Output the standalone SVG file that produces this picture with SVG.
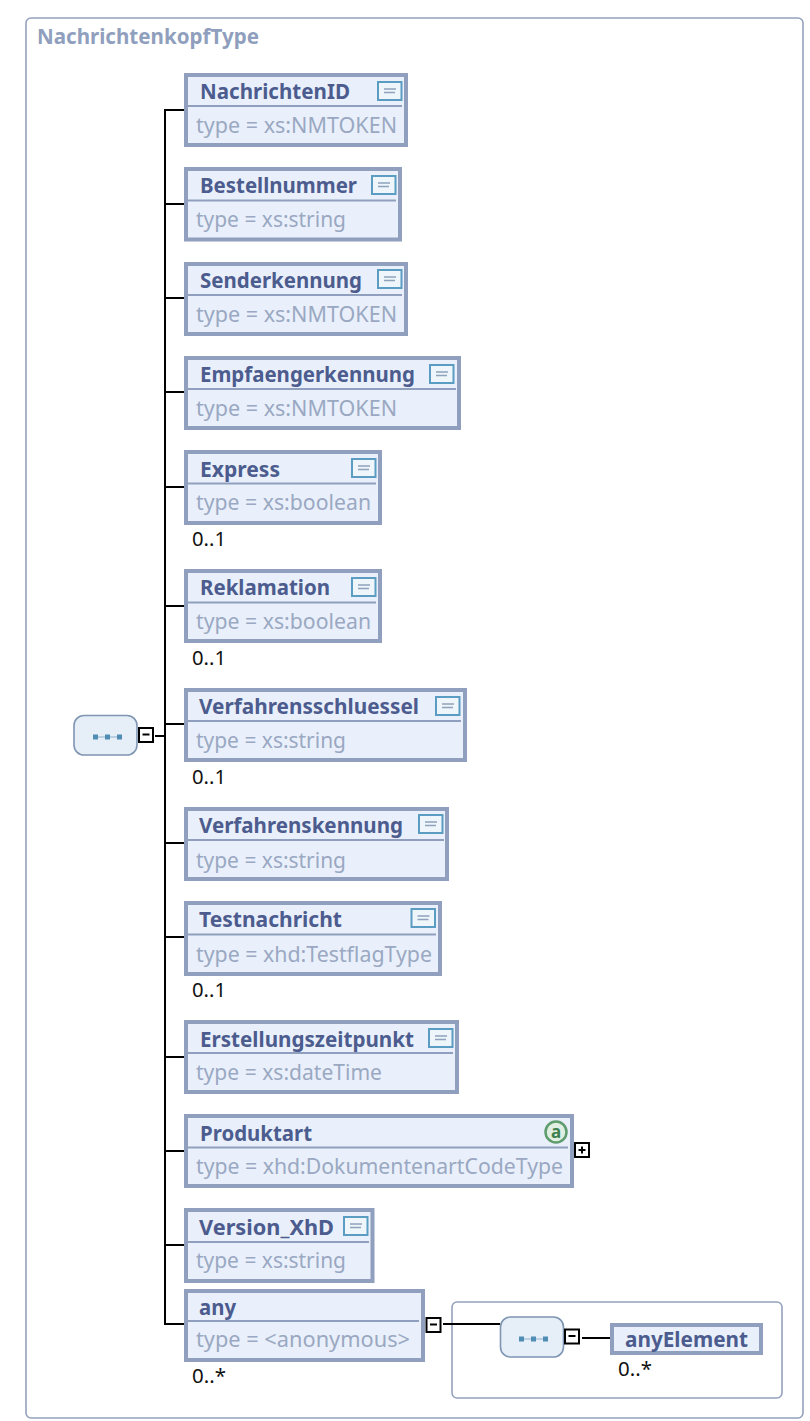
<svg xmlns="http://www.w3.org/2000/svg" width="810" height="1421" viewBox="0 0 810 1421">
<style>
text{font-family:"Noto Sans","Open Sans","Liberation Sans",sans-serif}
.box{fill:#e9f0fb;stroke:#8f9fbd;stroke-width:4}
.hd{stroke:#8f9fbd;stroke-width:2}
.n{font-size:22px;font-weight:700;fill:#4c5c8e}
.t{font-size:22px;fill:#9aa8c2}
.o{font-size:20px;fill:#111}
.c{fill:none;stroke:#000;stroke-width:2}
.fr{fill:#fff;stroke:#94a2bd;stroke-width:1.6}
.seq{fill:#e6eff8;stroke:#7f95b2;stroke-width:1.6}
.d{fill:#4f8db5}
.tg{fill:#fff;stroke:#000;stroke-width:2}
.ttl{font-size:21px;font-weight:700;fill:#8f9fbd}
.at{font-size:17px;font-weight:700;fill:#3e7f50}
</style>
<defs>
<g id="doc"><rect x="1" y="1" width="23.500" height="18" fill="#eef5fb" stroke="#5b9cc2" stroke-width="2"/><path d="M7 11.500H18M7 8H19" stroke="#8fa3bd" stroke-width="1.500" fill="none"/></g>
<g id="dots"><path d="M0 0H26" stroke="#8fb0c8" stroke-width="1"/><rect x="-3" y="-2.500" width="5" height="5" class="d"/><rect x="9" y="-2.500" width="5" height="5" class="d"/><rect x="21" y="-2.500" width="5" height="5" class="d"/></g>
<g id="minus"><rect x="1" y="1" width="14" height="14" class="tg"/><path d="M4.500 7.500H11.500" stroke="#000" stroke-width="2"/></g>
</defs>
<rect id="frame" x="26" y="18" width="777" height="1400" rx="5" class="fr"/>
<text id="title" class="ttl" x="37" y="44" textLength="222" lengthAdjust="spacingAndGlyphs">NachrichtenkopfType</text>
<rect id="inner" x="452" y="1302" width="330" height="96" rx="5" class="fr"/>
<g id="connectors">
<path class="c" d="M184 110H165V1324H184"/>
<path class="c" d="M165 204H184M165 298H184M165 392H184M165 487H184M165 606H184M165 724H184M165 843H184M165 937H184M165 1057H184M165 1151H184M165 1245H184"/>
<path class="c" d="M155 736H165"/>
<path class="c" d="M443 1324H500M582 1338H610"/>
</g>
<g id="seq1"><rect x="74" y="715.500" width="63" height="39.500" rx="10" class="seq"/><use href="#dots" x="96" y="737"/></g>
<use id="toggle1" href="#minus" x="138" y="727"/>
<g id="NachrichtenID"><rect x="186" y="75" width="220" height="70" class="box"/><path class="hd" d="M186 106H402"/><text class="n" x="200" y="99" textLength="150" lengthAdjust="spacingAndGlyphs">NachrichtenID</text><use href="#doc" x="377" y="81"/><text class="t" x="196" y="133" textLength="201" lengthAdjust="spacingAndGlyphs">type = xs:NMTOKEN</text></g>
<g id="Bestellnummer"><rect x="186" y="169" width="214" height="70.500" class="box"/><path class="hd" d="M186 200.500H396"/><text class="n" x="200" y="193" textLength="157" lengthAdjust="spacingAndGlyphs">Bestellnummer</text><use href="#doc" x="371" y="175"/><text class="t" x="196" y="227" textLength="150" lengthAdjust="spacingAndGlyphs">type = xs:string</text></g>
<g id="Senderkennung"><rect x="186" y="264" width="220" height="70" class="box"/><path class="hd" d="M186 295H402"/><text class="n" x="200" y="288" textLength="162" lengthAdjust="spacingAndGlyphs">Senderkennung</text><use href="#doc" x="377" y="269"/><text class="t" x="196" y="322" textLength="201" lengthAdjust="spacingAndGlyphs">type = xs:NMTOKEN</text></g>
<g id="Empfaengerkennung"><rect x="186" y="358" width="273" height="70" class="box"/><path class="hd" d="M186 389H456"/><text class="n" x="200" y="382" textLength="215" lengthAdjust="spacingAndGlyphs">Empfaengerkennung</text><use href="#doc" x="429" y="364"/><text class="t" x="196" y="416" textLength="201" lengthAdjust="spacingAndGlyphs">type = xs:NMTOKEN</text></g>
<g id="Express"><rect x="186" y="452" width="194" height="71" class="box"/><path class="hd" d="M186 483.500H376"/><text class="n" x="200" y="477" textLength="80" lengthAdjust="spacingAndGlyphs">Express</text><use href="#doc" x="351" y="458"/><text class="t" x="196" y="510" textLength="175" lengthAdjust="spacingAndGlyphs">type = xs:boolean</text><text class="o" x="192" y="546" textLength="34" lengthAdjust="spacingAndGlyphs">0..1</text></g>
<g id="Reklamation"><rect x="186" y="571" width="194" height="70" class="box"/><path class="hd" d="M186 602.500H376"/><text class="n" x="200" y="595" textLength="130" lengthAdjust="spacingAndGlyphs">Reklamation</text><use href="#doc" x="351" y="577"/><text class="t" x="196" y="629" textLength="175" lengthAdjust="spacingAndGlyphs">type = xs:boolean</text><text class="o" x="192" y="665" textLength="34" lengthAdjust="spacingAndGlyphs">0..1</text></g>
<g id="Verfahrensschluessel"><rect x="186" y="690" width="279" height="70" class="box"/><path class="hd" d="M186 721H461"/><text class="n" x="199" y="714" textLength="220" lengthAdjust="spacingAndGlyphs">Verfahrensschluessel</text><use href="#doc" x="435" y="696"/><text class="t" x="196" y="748" textLength="150" lengthAdjust="spacingAndGlyphs">type = xs:string</text><text class="o" x="192" y="784" textLength="34" lengthAdjust="spacingAndGlyphs">0..1</text></g>
<g id="Verfahrenskennung"><rect x="186" y="809" width="261" height="70" class="box"/><path class="hd" d="M186 840H444"/><text class="n" x="199" y="833" textLength="204" lengthAdjust="spacingAndGlyphs">Verfahrenskennung</text><use href="#doc" x="418" y="814"/><text class="t" x="196" y="868" textLength="150" lengthAdjust="spacingAndGlyphs">type = xs:string</text></g>
<g id="Testnachricht"><rect x="186" y="903" width="254" height="71" class="box"/><path class="hd" d="M186 934.500H436"/><text class="n" x="199" y="927" textLength="143" lengthAdjust="spacingAndGlyphs">Testnachricht</text><use href="#doc" x="410.500" y="908"/><text class="t" x="196" y="962" textLength="236" lengthAdjust="spacingAndGlyphs">type = xhd:TestflagType</text><text class="o" x="192" y="997" textLength="34" lengthAdjust="spacingAndGlyphs">0..1</text></g>
<g id="Erstellungszeitpunkt"><rect x="186" y="1022" width="271" height="70" class="box"/><path class="hd" d="M186 1053H453"/><text class="n" x="200" y="1047" textLength="214" lengthAdjust="spacingAndGlyphs">Erstellungszeitpunkt</text><use href="#doc" x="428" y="1028"/><text class="t" x="196" y="1080" textLength="186" lengthAdjust="spacingAndGlyphs">type = xs:dateTime</text></g>
<g id="Produktart"><rect x="186" y="1116" width="386" height="70" class="box"/><path class="hd" d="M186 1147.500H568"/><text class="n" x="200" y="1141" textLength="112" lengthAdjust="spacingAndGlyphs">Produktart</text><circle cx="556" cy="1132" r="10.500" fill="#dff0e2" stroke="#5f9c6d" stroke-width="2.500"/><text class="at" x="556" y="1138" text-anchor="middle">a</text><text class="t" x="196" y="1174" textLength="367" lengthAdjust="spacingAndGlyphs">type = xhd:DokumentenartCodeType</text></g>
<g id="toggle2"><rect x="575" y="1143" width="14" height="14" class="tg"/><path d="M578.500 1150H585.500M582 1146.500V1153.500" stroke="#000" stroke-width="2"/></g>
<g id="Version_XhD"><rect x="186" y="1210" width="186.500" height="71" class="box"/><path class="hd" d="M186 1242H369"/><text class="n" x="199" y="1235" textLength="135" lengthAdjust="spacingAndGlyphs">Version_XhD</text><use href="#doc" x="343" y="1216"/><text class="t" x="196" y="1268" textLength="150" lengthAdjust="spacingAndGlyphs">type = xs:string</text></g>
<g id="any"><rect x="186" y="1291" width="237" height="69" class="box"/><path class="hd" d="M186 1321H419"/><text class="n" x="199" y="1315" textLength="37" lengthAdjust="spacingAndGlyphs">any</text><text class="t" x="196" y="1347" textLength="214" lengthAdjust="spacingAndGlyphs">type = &lt;anonymous&gt;</text><text class="o" x="192" y="1383" textLength="34" lengthAdjust="spacingAndGlyphs">0..*</text></g>
<use id="toggle3" href="#minus" x="425.500" y="1317"/>
<g id="seq2"><rect x="500.500" y="1317" width="63" height="40" rx="10" class="seq"/><use href="#dots" x="522" y="1339"/></g>
<use id="toggle4" href="#minus" x="564" y="1328.500"/>
<g id="anyElement"><rect x="612" y="1325" width="149" height="28" class="box"/><text class="n" x="625" y="1347" textLength="123" lengthAdjust="spacingAndGlyphs">anyElement</text><text class="o" x="618" y="1376" textLength="34" lengthAdjust="spacingAndGlyphs">0..*</text></g>
</svg>
